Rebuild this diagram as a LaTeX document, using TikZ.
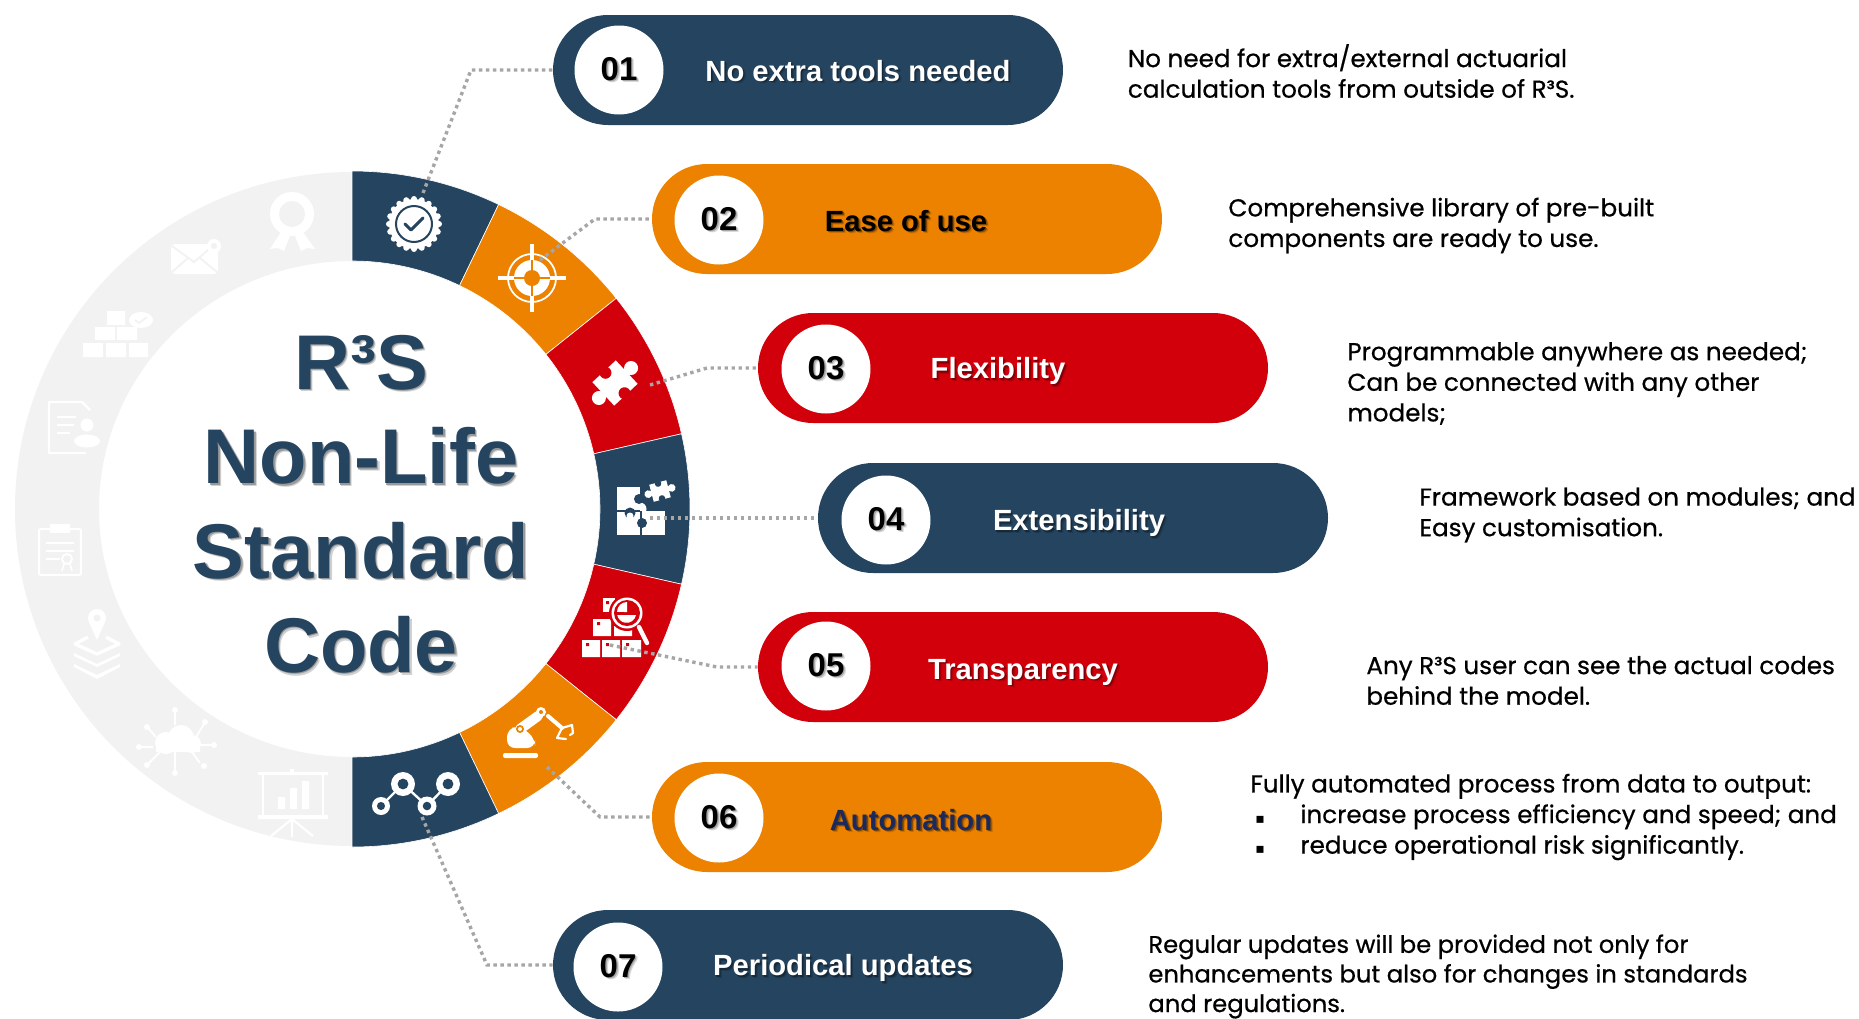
\documentclass[tikz,border=0pt]{standalone}
\usepackage{fontspec}
\usetikzlibrary{shapes.misc}
\setmainfont{Liberation Sans}
\newfontfamily\descfont{Poppins}[FakeBold=0.6,FakeStretch=1.01]
\newfontfamily\symfont{DejaVu Sans}
\definecolor{navy}{HTML}{24445F}
\definecolor{orng}{HTML}{EC8200}
\definecolor{crim}{HTML}{D2000A}
\definecolor{faint}{HTML}{F2F2F2}
\definecolor{dots}{HTML}{A6A6A6}
\definecolor{autoblue}{HTML}{1B2A5C}
\newcommand{\shtext}[3]{\makebox[0pt][l]{\kern1.3pt\raisebox{-1.3pt}{\textcolor{#1}{#3}}}\makebox[0pt][l]{\kern.7pt\raisebox{-.7pt}{\textcolor{#2}{#3}}}#3}
\newcommand{\seg}[3]{\fill[#1,draw=white,line width=.3pt] (#2:338) arc (#2:#3:338) -- (#3:248) arc (#3:#2:248) -- cycle;}
\newcommand{\piece}[1]{%
  \fill[white] (-16,-16) rectangle (16,16);
  \fill[white] (22,0) circle (7) (-22,0) circle (7);
  \fill[white] (14,-4) rectangle (20,4) (-14,-4) rectangle (-20,4);
  \fill[#1] (0,14) circle (6) (0,-14) circle (6);
  \fill[#1] (-3,17) rectangle (3,12) (-3,-17) rectangle (3,-12);}
\tikzset{
  pill/.style={rounded rectangle,fill=#1,minimum width=255pt,minimum height=55pt,inner sep=0pt},
  numdisc/.style={circle,fill=white,minimum size=44.5pt,inner sep=0pt,font=\fontsize{16.5}{18}\selectfont\bfseries,text=black},
  pilltext/.style={font=\fontsize{14.6}{17}\selectfont\bfseries,inner sep=0pt},
  desc/.style={anchor=west,align=left,inner sep=0pt,text=black,font=\descfont\fontsize{12.2}{15.3}\selectfont},
  connector/.style={draw=dots,line width=1.7pt,dash pattern=on 1.7pt off 1.8pt},
  local/.style={shift={#1},x=.5pt,y=.5pt},
  wl/.style={draw=white,line width=#1,line cap=round,line join=round}
}
\begin{document}
\begin{tikzpicture}[x=.5pt,y=-.5pt]
\useasboundingbox (0,0) rectangle (1859,1018);
\fill[white] (0,0) rectangle (1859,1018);

% ring
\begin{scope}[local={(352,509)}]
  \fill[faint] (0,337) arc (90:270:337) -- (0,-248) arc (270:90:253 and 248) -- cycle;
  \seg{navy}{90}{64.29}
  \seg{orng}{64.29}{38.57}
  \seg{crim}{38.57}{12.86}
  \seg{navy}{12.86}{-12.86}
  \seg{crim}{-12.86}{-38.57}
  \seg{orng}{-38.57}{-64.29}
  \seg{navy}{-64.29}{-90}
\end{scope}

% title
\node[align=center,text=navy,inner sep=0pt,font=\fontsize{38.8}{47.2}\selectfont\bfseries] (title) at (361,505.5)
 {\shtext{black!18}{black!40}{R³S}\\ \shtext{black!18}{black!40}{Non-Life}\\ \shtext{black!18}{black!40}{Standard}\\ \shtext{black!18}{black!40}{Code}};

% icon 1 badge
\begin{scope}[local={(414,224)}]
  \fill[white] (0,0) circle (25);
  \foreach \a in {0,18,...,342} \fill[white] (\a:25) circle (3);
  \draw[navy,line width=1pt] (0,0) circle (18);
  \draw[navy,line width=1.5pt,line cap=round,line join=round] (-9,0) -- (-3,-6) -- (9,6);
\end{scope}
% icon 2 target
\begin{scope}[local={(532,278)}]
  \draw[white,line width=.9pt] (0,0) circle (24);
  \fill[white] (0,0) circle (18);
  \draw[orng,line width=1.2pt] (-18,0) -- (18,0) (0,-18) -- (0,18);
  \fill[orng] (0,0) circle (8);
  \draw[wl=2pt,line cap=butt] (-34,0) -- (-18,0) (34,0) -- (18,0) (0,-34) -- (0,-18) (0,34) -- (0,18);
\end{scope}
% icon 3 puzzle
\begin{scope}[local={(615,383)},rotate=43]
  \piece{crim}
\end{scope}
% icon 4 puzzle group
\begin{scope}[local={(640,507)}]
  \fill[white] (-23,-28) rectangle (25,-4);
  \fill[white] (-23,-28) rectangle (0,20);
  \fill[white] (0,-2) circle (6.5);
  \fill[navy] (-1,8) circle (5) (2,-16) circle (5) (-10,-6) circle (5.5);
  \fill[white] (-10,-9) circle (3.5);
  \draw[navy,line width=.8pt] (-23,-4) -- (0,-4) (1,-4) -- (1,-28);
  \begin{scope}[shift={(20,16)},rotate=15,scale=.55]
    \piece{navy}
  \end{scope}
\end{scope}
% icon 5 boxes and magnifier
\begin{scope}
  \fill[white] (582,640) rectangle (600,657) (602,640) rectangle (620,657) (622,640) rectangle (641,657);
  \fill[white] (593,619) rectangle (611,636) (614,626) rectangle (632,636);
  \fill[white] (603,598) rectangle (615,612);
  \fill[crim] (586,643) rectangle (589,646) (606,643) rectangle (609,646) (626,643) rectangle (629,646) (597,622) rectangle (600,625) (606,601) rectangle (609,604);
  \fill[crim] (627,613) circle (18);
  \fill[white] (627,613) circle (15.5);
  \fill[crim] (627,613) circle (13);
  \begin{scope}[local={(627,613)}]
    \fill[white] (0,1) -- (0,11) arc (90:180:10) -- cycle;
    \fill[white] (-10,-2) -- (9,-2) arc (-10:-170:9.5) -- cycle;
    \fill[crim] (-3,1) -- (-11,1) -- (-11,-2) -- (-3,-2) -- cycle;
  \end{scope}
  \draw[wl=2.2pt] (639,627) -- (647,643);
\end{scope}
% icon 6 robot
\begin{scope}
  \fill[white,rounded corners=1pt] (503,753) rectangle (538,758);
  \fill[white,rounded corners=4pt] (507,748) -- (507,729) -- (520,726) -- (535,738) -- (535,748) -- cycle;
  \draw[white,line width=5pt,line cap=round] (520,729) -- (538,716);
  \fill[orng] (520,729) circle (4);
  \fill[white] (520,729) circle (2);
  \fill[white] (541,712) circle (5);
  \fill[orng] (541,712) circle (2);
  \draw[wl=2pt] (548,716) -- (562,728);
  \draw[wl=1.1pt] (562,728) -- (572,725) -- (573,733) -- (570,735) (562,728) -- (557,738) -- (566,739);
\end{scope}
% icon 7 nodes
\begin{scope}
  \draw[wl=1.2pt] (381,806) -- (403,784) -- (427,806) -- (448,784);
  \foreach \p/\r/\s in {381/806/9, 403/784/12, 427/806/9.5, 448/784/12}
    {\fill[white] (\p,\r) circle (\s); \fill[navy] (\p,\r) circle ({.45*\s});}
\end{scope}

% faint icons
\begin{scope}
  % award
  \fill[white] (292,214) circle (22);
  \fill[faint] (292,214) circle (13);
  \fill[white] (281,232) -- (270,249) -- (278,248) -- (284,251) -- (290,236) -- cycle;
  \fill[white] (303,232) -- (315,249) -- (307,248) -- (301,251) -- (295,236) -- cycle;
  % envelope
  \fill[white,rounded corners=2pt] (171,244) rectangle (218,274);
  \draw[faint,line width=.9pt] (172,246) -- (194,262) -- (208,250) (172,272) -- (188,258) (200,258) -- (217,272);
  \fill[white] (214,246) circle (7);
  \fill[faint] (214,246) circle (3);
  % blocks
  \fill[white] (83,343) rectangle (103,357) (106,343) rectangle (126,357) (129,343) rectangle (148,357);
  \fill[white] (95,327) rectangle (115,340) (117,327) rectangle (137,340) (107,311) rectangle (125,325);
  \fill[white] (141,320) ellipse (12 and 8);
  \draw[faint,line width=.8pt] (135,320) -- (139,323) -- (147,317);
  % document with person
  \draw[white,line width=1.1pt,line join=round] (90,410) -- (82,402) -- (49,402) -- (49,453) -- (86,453);
  \draw[white,line width=.7pt] (57,417) -- (76,417) (57,425) -- (74,425) (57,433) -- (70,433);
  \fill[white] (87,425) circle (6.5);
  \fill[white] (87,441) ellipse (13 and 6.5);
  % clipboard
  \draw[white,line width=1.1pt,rounded corners=1pt] (39,529) rectangle (81,575);
  \fill[white] (50,524) rectangle (70,533);
  \draw[white,line width=.7pt] (46,543) -- (74,543) (46,551) -- (74,551) (46,559) -- (60,559);
  \draw[white,line width=1pt] (67,559) circle (5);
  \draw[white,line width=.8pt] (64,564) -- (62,571) (70,564) -- (72,571);
  % layers and pin
  \fill[white] (97,618) circle (9);
  \fill[white] (89,622) -- (97,640) -- (105,622) -- cycle;
  \fill[faint] (97,618) circle (3.5);
  \draw[white,line width=1.7pt,line join=round] (88,637) -- (75,644) -- (97,654) -- (119,644) -- (106,637);
  \fill[white] (74,653) -- (97,664) -- (120,653) -- (120,656) -- (97,667) -- (74,656) -- cycle;
  \fill[white] (74,664) -- (97,675) -- (120,664) -- (120,667) -- (97,679) -- (74,667) -- cycle;
  % cloud network
  \fill[white] (166,743) circle (11) (181,738) circle (13) (192,744) circle (9);
  \fill[white] (156,744) rectangle (200,752);
  \draw[white,line width=.9pt] (175,725) -- (175,710) (175,752) -- (175,772)
     (156,737) -- (148,728) (196,737) -- (204,724) (200,745) -- (213,745)
     (160,752) -- (148,764) (192,752) -- (200,763) (153,747) -- (140,747);
  \fill[white] (175,710) circle (3) (175,773) circle (3) (147,727) circle (3) (205,722) circle (3)
     (214,745) circle (3) (147,765) circle (3) (204,766) circle (3) (139,747) circle (3);
  % presentation
  \fill[white] (258,772) rectangle (328,775) (258,815) rectangle (328,819) (290,769) rectangle (294,772);
  \draw[white,line width=.8pt] (263,775) -- (263,815) (323,775) -- (323,815);
  \fill[white] (278,797) rectangle (285,809) (290,788) rectangle (297,809) (302,781) rectangle (309,809);
  \draw[white,line width=1.1pt] (292,819) -- (292,837) (292,819) -- (271,836) (292,819) -- (313,836);
\end{scope}

% pills
\node[pill=navy] (p1) at (808,70) {};
\node[pill=orng] (p2) at (907,219) {};
\node[pill=crim] (p3) at (1013,368) {};
\node[pill=navy] (p4) at (1073,518) {};
\node[pill=crim] (p5) at (1013,667) {};
\node[pill=orng] (p6) at (907,817) {};
\node[pill=navy] (p7) at (808,965) {};

% number discs
\node[numdisc] (n1) at (619,70) {\shtext{black!15}{black!35}{01}};
\node[numdisc] (n2) at (719,220) {\shtext{black!15}{black!35}{02}};
\node[numdisc] (n3) at (826,369) {\shtext{black!15}{black!35}{03}};
\node[numdisc] (n4) at (886,520) {\shtext{black!15}{black!35}{04}};
\node[numdisc] (n5) at (826,666) {\shtext{black!15}{black!35}{05}};
\node[numdisc] (n6) at (719,818) {\shtext{black!15}{black!35}{06}};
\node[numdisc] (n7) at (618,967) {\shtext{black!15}{black!35}{07}};

% pill labels
\node[pilltext,text=white] (t1) at (858,72) {\shtext{navy!85!black}{navy!60!black}{No extra tools needed}};
\node[pilltext,text=black] (t2) at (906,222) {\shtext{orng!85!black}{orng!55!black}{Ease of use}};
\node[pilltext,text=white] (t3) at (998,372.5) {\shtext{crim!85!black}{crim!60!black}{Flexibility}};
\node[pilltext,text=white] (t4) at (1079,524.5) {\shtext{navy!85!black}{navy!60!black}{Extensibility}};
\node[pilltext,text=white] (t5) at (1023,673.5) {\shtext{crim!85!black}{crim!60!black}{Transparency}};
\node[pilltext,text=autoblue] (t6) at (911,821) {\shtext{orng!85!black}{orng!55!black}{Automation}};
\node[pilltext,text=white] (t7) at (843,969.5) {\shtext{navy!85!black}{navy!60!black}{Periodical updates}};

% connectors
\coordinate (s1) at (423,193); \coordinate (k1) at (471,70);
\coordinate (s2) at (540,260); \coordinate (k2) at (595,219);
\coordinate (s3) at (650,385); \coordinate (k3) at (707,368);
\coordinate (s4) at (650,518);
\coordinate (s5) at (610,645); \coordinate (k5) at (717,667);
\coordinate (s6) at (547,767); \coordinate (k6) at (600,817);
\coordinate (s7) at (422,817); \coordinate (k7) at (487,965);
\draw[connector] (s1) -- (k1) -- (p1.west);
\draw[connector] (s2) -- (k2) -- (p2.west);
\draw[connector] (s3) -- (k3) -- (p3.west);
\draw[connector] (s4) -- (p4.west);
\draw[connector] (s5) -- (k5) -- (p5.west);
\draw[connector] (s6) -- (k6) -- (p6.west);
\draw[connector] (s7) -- (k7) -- (p7.west);

% descriptions
\node[desc] (d1) at (1127.5,71) {No need for extra/external actuarial\\calculation tools from outside of R³S.};
\node[desc] (d2) at (1228,225.5) {Comprehensive library of pre-built\\components are ready to use.};
\node[desc] (d3) at (1347,383.5) {Programmable anywhere as needed;\\Can be connected with any other\\models;};
\node[desc] (d4) at (1419,515) {Framework based on modules; and\\Easy customisation.};
\node[desc] (d5) at (1366,680.5) {Any R³S user can see the actual codes\\behind the model.};
\node[desc] (d6) at (1250,817) {Fully automated process from data to output:\\\hspace*{2.5pt}\makebox[22.5pt][l]{\symfont\fontsize{7}{7}\selectfont ▪}increase process efficiency and speed; and\\\hspace*{2.5pt}\makebox[22.5pt][l]{\symfont\fontsize{7}{7}\selectfont ▪}reduce operational risk significantly.};
\node[desc,font=\descfont\fontsize{12}{14.8}\selectfont] (d7) at (1148,976.5) {Regular updates will be provided not only for\\enhancements but also for changes in standards\\and regulations.};
\end{tikzpicture}
\end{document}
